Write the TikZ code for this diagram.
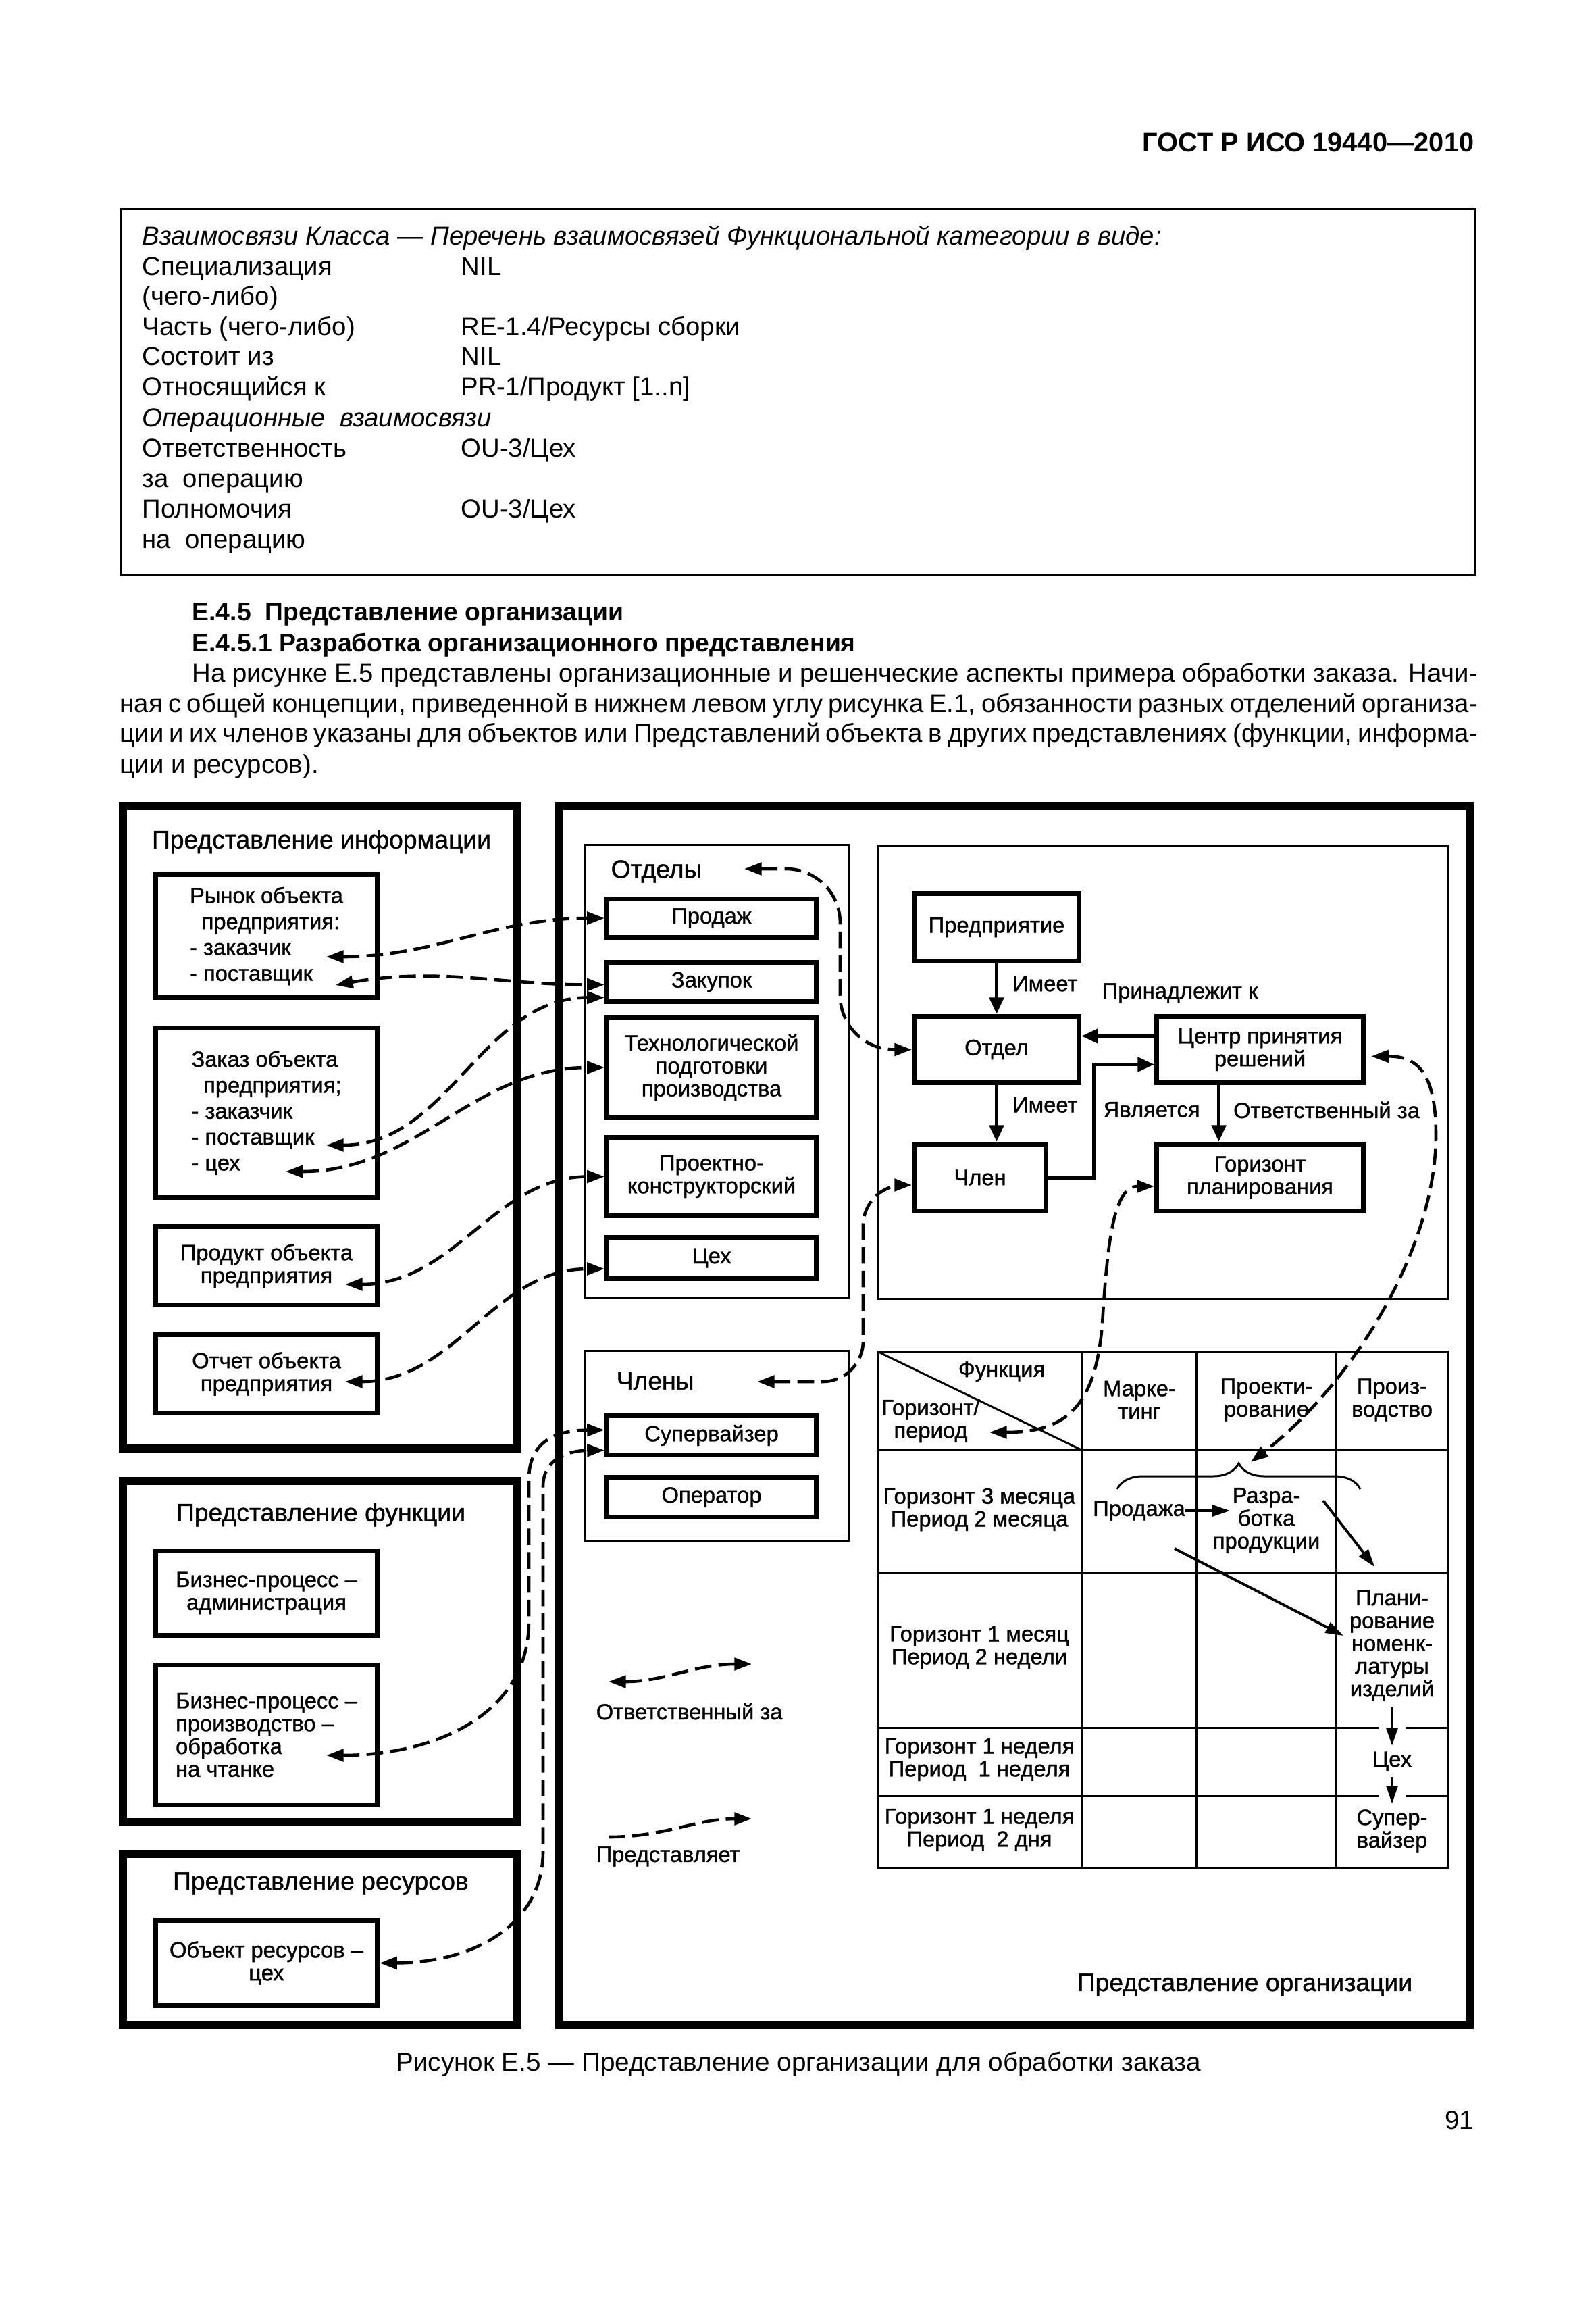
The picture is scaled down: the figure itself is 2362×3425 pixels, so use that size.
\documentclass[tikz,border=0pt]{standalone}
\usepackage{fontspec}
\setmainfont{Liberation Sans}
\newfontfamily\diagfont{Liberation Sans}[FakeBold=1.1]
\usetikzlibrary{arrows.meta, calc, decorations.pathreplacing}
\tikzset{
  repframe/.style={
    draw,
    line width=3.4pt
  },
  thinframe/.style={
    draw,
    line width=0.85pt
  },
  objbox/.style={
    draw,
    line width=2pt,
    align=center,
    inner sep=0pt,
    font=\diagfont\fontsize{9.3}{9.6}\selectfont
  },
  infobox/.style={
    objbox,
    minimum width=3.28cm
  },
  unitbox/.style={
    objbox,
    minimum width=3.10cm
  },
  lbl/.style={
    inner sep=0pt,
    align=center,
    font=\diagfont\fontsize{9.3}{9.6}\selectfont
  },
  cell/.style={
    lbl,
    inner sep=0.08cm
  },
  reptitle/.style={
    inner sep=0pt,
    font=\diagfont\fontsize{10.6}{12}\selectfont
  },
  txt/.style={
    inner sep=0pt,
    anchor=base west,
    font=\fontsize{10.9}{12.8}\selectfont
  },
  arrow/.style={
    ->,
    >={Triangle[length=7pt,width=6pt]},
    line width=1.5pt
  },
  tabarrow/.style={
    ->,
    >={Triangle[length=7.5pt,width=4.8pt]},
    line width=1.1pt
  },
  gapped/.style={
    preaction={draw=white, line width=0.4cm, -}
  },
  resp/.style={
    <->,
    >={Triangle[length=7.3pt,width=5.2pt]},
    line width=1.3pt,
    dash pattern=on 7pt off 3pt
  },
  repr/.style={
    resp,
    ->
  }
}
\begin{document}
\begin{tikzpicture}[x=0.01cm, y=-0.01cm]
  \fill[white] (0,0) rectangle (2362,3425);
  \useasboundingbox (0,0) rectangle (2362,3425);

  \node[inner sep=0pt, anchor=east, font=\bfseries\fontsize{11.3}{13}\selectfont] (gost) at (2183,211) {ГОСТ Р ИСО 19440—2010};

  \draw[thinframe] (178.5,309.5) rectangle (2184.5,850.5);
  \node[txt, font=\itshape\fontsize{10.9}{12.8}\selectfont] at (210,363) {Взаимосвязи Класса — Перечень взаимосвязей Функциональной категории в виде:};
  \node[txt] at (210,408) {Специализация};
  \node[txt] at (682,408) {NIL};
  \node[txt] at (210,452) {(чего-либо)};
  \node[txt] at (210,497) {Часть (чего-либо)};
  \node[txt] at (682,497) {RE-1.4/Ресурсы сборки};
  \node[txt] at (210,541) {Состоит из};
  \node[txt] at (682,541) {NIL};
  \node[txt] at (210,586) {Относящийся к};
  \node[txt] at (682,586) {PR-1/Продукт [1..n]};
  \node[txt, font=\itshape\fontsize{10.9}{12.8}\selectfont] at (210,632) {Операционные\ \ взаимосвязи};
  \node[txt] at (210,677) {Ответственность};
  \node[txt] at (682,677) {OU-3/Цех};
  \node[txt] at (210,722) {за\ \ операцию};
  \node[txt] at (210,767) {Полномочия};
  \node[txt] at (682,767) {OU-3/Цех};
  \node[txt] at (210,812) {на\ \ операцию};

  \node[txt, font=\bfseries\fontsize{10.6}{12.8}\selectfont] at (284,919) {Е.4.5\ \ Представление организации};
  \node[txt, font=\bfseries\fontsize{10.6}{12.8}\selectfont] at (284,964) {Е.4.5.1 Разработка организационного представления};
  \node[txt] at (284,1009) {\makebox[19.02cm][s]{На рисунке Е.5 представлены организационные и решенческие аспекты примера обработки заказа. Начи-}};
  \node[txt] at (177,1054) {\makebox[20.09cm][s]{ная с общей концепции, приведенной в нижнем левом углу рисунка Е.1, обязанности разных отделений организа-}};
  \node[txt] at (177,1098) {\makebox[20.09cm][s]{ции и их членов указаны для объектов или Представлений объекта в других представлениях (функции, информа-}};
  \node[txt] at (177,1144) {ции и ресурсов).};

  \draw[repframe] (182,1193) rectangle (766,2144);
  \draw[repframe] (182,2192) rectangle (766,2697);
  \draw[repframe] (182,2744) rectangle (766,2997);
  \draw[repframe] (828,1193) rectangle (2176,2997);
  \draw[thinframe] (865.5,1250.5) rectangle (1256.5,1921.5);
  \draw[thinframe] (865.5,1999.5) rectangle (1256.5,2280.5);
  \draw[thinframe] (1299.5,1251.5) rectangle (2143.5,1922.5);

  \node[reptitle] (inforep) at (476,1246) {Представление информации};
  \node[reptitle] (funcrep) at (475,2242) {Представление функции};
  \node[reptitle] (resrep) at (475,2788) {Представление ресурсов};
  \node[reptitle] (orgrep) at (1843,2938) {Представление организации};
  \node[reptitle, anchor=west] (otdely) at (904,1290) {Отделы};
  \node[reptitle, anchor=west] (chleny) at (912,2044) {Члены};

  \node[infobox, minimum height=1.82cm, align=left, font=\diagfont\fontsize{9.3}{10.9}\selectfont] (rynok) at (394.5,1385.5) {Рынок объекта\\\hspace*{5pt}предприятия:\\- заказчик\\- поставщик};
  \node[infobox, minimum height=2.51cm, align=left, font=\diagfont\fontsize{9.3}{10.9}\selectfont] (zakaz) at (394.5,1647) {Заказ объекта\\\hspace*{5pt}предприятия;\\- заказчик\\- поставщик\\- цех};
  \node[infobox, minimum height=1.16cm] (produkt) at (394.5,1873.5) {Продукт объекта\\предприятия};
  \node[infobox, minimum height=1.16cm] (otchet) at (394.5,2033.5) {Отчет объекта\\предприятия};
  \node[infobox, minimum height=1.25cm] (bpadm) at (394.5,2358) {Бизнес-процесс –\\администрация};
  \node[infobox, minimum height=2.07cm, align=left] (bpprod) at (394.5,2568) {Бизнес-процесс –\\производство –\\обработка\\на чтанке};
  \node[infobox, minimum height=1.26cm] (resobj) at (394.5,2905.5) {Объект ресурсов –\\цех};

  \node[unitbox, minimum height=0.57cm] (prodazh) at (1053.5,1359) {Продаж};
  \node[unitbox, minimum height=0.58cm] (zakupok) at (1053.5,1453.5) {Закупок};
  \node[unitbox, minimum height=1.47cm] (tekhn) at (1053.5,1580) {Технологической\\подготовки\\производства};
  \node[unitbox, minimum height=1.16cm] (proekt) at (1053.5,1741.5) {Проектно-\\конструкторский};
  \node[unitbox, minimum height=0.61cm] (tsekh) at (1053.5,1862) {Цех};
  \node[unitbox, minimum height=0.58cm] (superv) at (1053.5,2124.5) {Супервайзер};
  \node[unitbox, minimum height=0.59cm] (operator) at (1053.5,2216) {Оператор};

  \node[objbox, minimum width=2.44cm, minimum height=1.00cm] (predpr) at (1475.5,1372.5) {Предприятие};
  \node[objbox, minimum width=2.44cm, minimum height=0.98cm] (otdel) at (1475.5,1553.5) {Отдел};
  \node[objbox, minimum width=1.95cm, minimum height=0.99cm] (chlen) at (1451,1743) {Член};
  \node[objbox, minimum width=3.06cm, minimum height=0.98cm] (cdc) at (1865.5,1553.5) {Центр принятия\\решений};
  \node[objbox, minimum width=3.06cm, minimum height=0.99cm] (hplan) at (1865.5,1743) {Горизонт\\планирования};

  \draw[arrow] (predpr) -- node[lbl, right, xshift=0.21cm, pos=0.4] {Имеет} (otdel);
  \draw[arrow] (otdel.south) -- node[lbl, right, xshift=0.21cm, pos=0.35] {Имеет} (otdel.south |- chlen.north);
  \draw[arrow] ($(cdc.west)+(0,-20)$) -- ($(otdel.east)+(0,-20)$);
  \node[lbl, anchor=west] (belongs) at (1631,1470) {Принадлежит к};
  \draw[arrow] (chlen.east) -- ++(68,0) |- node[lbl, right, xshift=0.11cm, pos=0.3] {Является} ($(cdc.west)+(0,22)$);
  \draw[arrow] ($(cdc.south)+(-61,0)$) -- node[lbl, right, xshift=0.19cm, pos=0.44] {Ответственный за} ($(hplan.north)+(-61,0)$);

  \draw[thinframe] (1299.5,2000.5) rectangle (2143.5,2764.5);
  \draw[line width=0.85pt] (1601,2000.5) -- (1601,2764.5);
  \draw[line width=0.85pt] (1771,2000.5) -- (1771,2764.5);
  \draw[line width=0.85pt] (1978,2000.5) -- (1978,2764.5);
  \draw[line width=0.85pt] (1299.5,2146) -- (2143.5,2146);
  \draw[line width=0.85pt] (1299.5,2328) -- (2143.5,2328);
  \draw[line width=0.85pt] (1299.5,2557) -- (2143.5,2557);
  \draw[line width=0.85pt] (1299.5,2658) -- (2143.5,2658);
  \draw[line width=0.85pt] (1299.5,2000.5) -- (1601,2146);

  \node[lbl] (func) at (1483,2030) {Функция};
  \node[lbl] (horper) at (1378,2103) {Горизонт/\\период};
  \node[lbl] (mark) at (1687,2072) {Марке-\\тинг};
  \node[lbl] (proj) at (1875,2072) {Проекти-\\рование};
  \node[lbl] (proizv) at (2061,2072) {Произ-\\водство};
  \node[lbl] (row1) at (1450,2234.5) {Горизонт 3 месяца\\Период 2 месяца};
  \node[lbl] (row2) at (1450,2438.5) {Горизонт 1 месяц\\Период 2 недели};
  \node[lbl] (row3) at (1450,2604.5) {Горизонт 1 неделя\\Период\ \ 1 неделя};
  \node[lbl] (row4) at (1450,2708.5) {Горизонт 1 неделя\\Период\ \ 2 дня};
  \node[lbl] (sale) at (1686.5,2236) {Продажа};
  \node[lbl] (razr) at (1875,2250.5) {Разра-\\ботка\\продукции};
  \node[cell] (plan) at (2061,2435.5) {Плани-\\рование\\номенк-\\латуры\\изделий};
  \node[cell] (tsekh2) at (2061,2607) {Цех};
  \node[cell] (superv2) at (2061,2710) {Супер-\\вайзер};

  \draw[line width=0.85pt, decorate, decoration={brace, amplitude=0.38cm}] (1654,2204) -- (2014,2204);

  \coordinate (razr-a) at (1959,2221);
  \coordinate (plan-a) at (2035,2319);
  \coordinate (sale-a) at (1739,2292);
  \coordinate (plan-b) at (1989,2421);
  \draw[tabarrow] (sale.east) -- ($(razr.west |- sale.east)+(26,0)$);
  \draw[tabarrow] (razr-a) -- (plan-a);
  \draw[tabarrow] (sale-a) -- (plan-b);
  \draw[tabarrow, gapped] (plan) -- (tsekh2);
  \draw[tabarrow, gapped] (tsekh2) -- (superv2);

  \coordinate (rynok-z) at (483,1416);
  \coordinate (rynok-p) at (497,1458);
  \coordinate (zakaz-p) at (483,1695);
  \coordinate (zakaz-c) at (423,1734);
  \coordinate (produkt-a) at (511,1901);
  \coordinate (otchet-a) at (511,2045);
  \coordinate (bpprod-a) at (483,2598);
  \coordinate (otdely-a) at (1102,1286);
  \coordinate (chleny-a) at (1121,2045);
  \coordinate (horper-a) at (1465,2120);
  \coordinate (bracetip) at (1852,2164);

  \draw[resp] (rynok-z) to[out=0,in=180] (prodazh.west);
  \draw[resp] (rynok-p) to[out=10,in=180] ($(zakupok.west)+(0,4)$);
  \draw[resp] (zakaz-p) to[out=0,in=180] ($(zakupok.west)+(0,23)$);
  \draw[resp] (zakaz-c) to[out=0,in=180] (tekhn.west);
  \draw[resp] (produkt-a) to[out=0,in=180] (proekt.west);
  \draw[resp] (otchet-a) to[out=0,in=180] ($(tsekh.west)+(0,16)$);
  \draw[resp, rounded corners=0.8cm] (otdely-a) -| ($(otdel.west)+(-106,0)$) -- (otdel.west);
  \draw[resp, rounded corners=0.6cm] (chleny-a) -| ($(chlen.west)+(-72,11)$) -- ($(chlen.west)+(0,11)$);
  \draw[resp] (bpprod-a) .. controls (640,2598) and (783,2540) .. (783,2400) -- (783,2190) .. controls (783,2135) and (820,2117) .. ($(superv.west)+(0,-8)$);
  \draw[resp] (resobj.east) .. controls (700,2905) and (804,2850) .. (804,2740) -- (804,2200) .. controls (804,2160) and (840,2147) .. ($(superv.west)+(0,22)$);
  \draw[resp] (horper-a) .. controls (1580,2120) and (1622,2080) .. (1632,1960) .. controls (1640,1830) and (1650,1756) .. ($(hplan.west)+(0,13)$);
  \draw[resp] ($(cdc.east)+(8,10)$) .. controls (2100,1563) and (2126,1590) .. (2126,1680) .. controls (2126,1850) and (2000,2050) .. (bracetip);

  \node[lbl, anchor=west] (legresp) at (882,2533) {Ответственный за};
  \node[lbl, anchor=west] (legrepr) at (882,2748) {Представляет};
  \coordinate (legresp-a) at (901,2489);
  \coordinate (legresp-b) at (1113,2463);
  \coordinate (legrepr-a) at (901,2719);
  \coordinate (legrepr-b) at (1113,2692);
  \draw[resp] (legresp-a) to[out=0,in=180] (legresp-b);
  \draw[repr] (legrepr-a) to[out=0,in=180] (legrepr-b);

  \node[inner sep=0pt, font=\fontsize{11}{13}\selectfont] (caption) at (1182,3055) {Рисунок Е.5 — Представление организации для обработки заказа};
  \node[inner sep=0pt, anchor=east, font=\fontsize{11}{13}\selectfont] (pagenum) at (2183,3138) {91};
\end{tikzpicture}
\end{document}
